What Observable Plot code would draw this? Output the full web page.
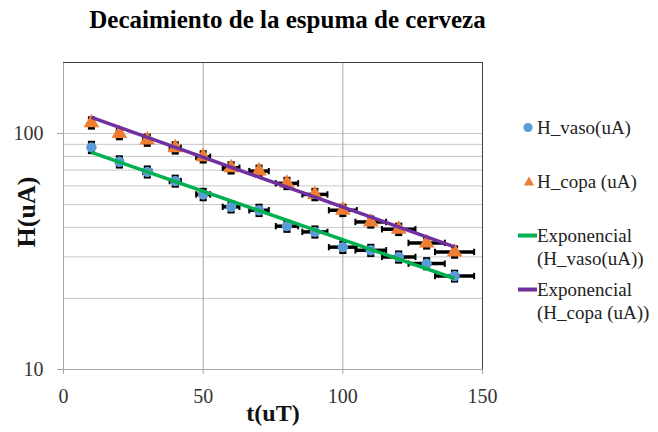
<!DOCTYPE html>
<html><head><meta charset="utf-8">
<script src="https://cdn.jsdelivr.net/npm/d3@7"></script>
<script src="https://cdn.jsdelivr.net/npm/@observablehq/plot@0.6"></script>
<style>
body{margin:0;background:#fff;}
#wrap{position:relative;width:658px;height:432px;overflow:hidden;font-family:"Liberation Serif","Times New Roman",serif;background:#fff;}
#title{position:absolute;left:0;top:0;width:575px;text-align:center;font-weight:bold;font-size:25px;line-height:40px;color:#000;}
#chart{position:absolute;left:0;top:40px;}
#ylab{position:absolute;left:27px;top:212px;width:0;height:0;}
#ylab span{position:absolute;left:0;top:0;transform:translate(-50%,-50%) rotate(-90deg);font-weight:bold;font-size:26px;line-height:30px;white-space:nowrap;color:#111;}
.item{position:absolute;left:517px;font-size:19px;line-height:23px;color:#222;}
.item svg{position:absolute;left:0;top:0;}
.item .txt{position:absolute;left:20px;top:0;white-space:nowrap;}
</style></head>
<body>
<div id="wrap">
  <div id="title"></div>
  <div id="chart"></div>
  <div id="ylab"><span></span></div>
</div>
<script>
// ---- data ----
const titleText = "Decaimiento de la espuma de cerveza";
const xLabel = "t(uT)";
const yLabel = "H(uA)";
const t = [10, 20, 30, 40, 50, 60, 70, 80, 90, 100, 110, 120, 130, 140];
const hVaso = [87.4, 75.9, 68.8, 62.9, 55.2, 48.9, 47.3, 40.5, 38.3, 33.0, 32.0, 30.0, 28.1, 24.9];
const hCopa = [111, 100, 93.8, 87, 79.7, 71.6, 69.3, 61.5, 55.2, 47.3, 42.2, 39.3, 34.4, 31.5];
const tErr = [0.5, 1, 1.5, 2, 2.5, 3, 3.5, 4, 4.5, 5, 5.5, 6, 6.5, 7];
const vasoErr = [4.4, 3.8, 3.4, 3.1, 2.8, 2.4, 2.4, 2.0, 1.9, 1.7, 1.6, 1.5, 1.4, 1.2];
const copaErr = [5.6, 5.0, 4.7, 4.4, 4.0, 3.6, 3.5, 3.1, 2.8, 2.4, 2.1, 2.0, 1.7, 1.6];
const fitT = [10, 140];
const fitVaso = [83.2, 24.3];
const fitCopa = [117, 33.1];
const xTicks = [0, 50, 100, 150];
const yTicks = [10, 100];
const yGrid = [20, 30, 40, 50, 60, 70, 80, 90, 100];
const seriesNames = ["H_vaso(uA)", "H_copa (uA)"];
const fitNames = [["Exponencial", "(H_vaso(uA))"], ["Exponencial", "(H_copa (uA))"]];
const colors = {vaso: "#5B9BD5", copa: "#ED7D31", fitVaso: "#00B050", fitCopa: "#7030A0"};

// ---- build tables ----
const rows = [];
t.forEach((tt, i) => {
  rows.push({s: "vaso", t: tt, H: hVaso[i], xe: tErr[i], ye: vasoErr[i]});
  rows.push({s: "copa", t: tt, H: hCopa[i], xe: tErr[i], ye: copaErr[i]});
});
const fits = [];
fitT.forEach((tt, i) => {
  fits.push({s: "fitVaso", t: tt, H: fitVaso[i]});
  fits.push({s: "fitCopa", t: tt, H: fitCopa[i]});
});
const vaso = rows.filter(d => d.s === "vaso");
const copa = rows.filter(d => d.s === "copa");

const vBar = {draw(ctx, size) { const h = Math.sqrt(size); ctx.moveTo(0, -h / 2); ctx.lineTo(0, h / 2); }};
const hBar = {draw(ctx, size) { const w = Math.sqrt(size); ctx.moveTo(-w / 2, 0); ctx.lineTo(w / 2, 0); }};

document.getElementById("title").textContent = titleText;
document.querySelector("#ylab span").textContent = yLabel;

const ff = "'Liberation Serif', 'Times New Roman', serif";
const chart = Plot.plot({
  width: 658, height: 392,
  marginLeft: 63, marginRight: 176, marginTop: 22, marginBottom: 63,
  style: {fontFamily: ff, fontSize: "20px", color: "#333", background: "transparent", overflow: "visible"},
  x: {domain: [0, 150]},
  y: {type: "log", domain: [10, 200]},
  marks: [
    Plot.gridY(yGrid, {stroke: "#c8c8c8", strokeOpacity: 1}),
    Plot.gridX([50, 100], {stroke: "#a6a6a6", strokeOpacity: 1}),
    Plot.ruleX([0], {stroke: "#a6a6a6"}),
    Plot.ruleY([10], {stroke: "#a6a6a6"}),
    Plot.ruleY([200], {stroke: "#404040"}),
    Plot.ruleX([150], {stroke: "#404040"}),
    Plot.axisY(yTicks, {tickSize: 6, tickPadding: 14, label: null, tickFormat: d => String(d), stroke: "#a6a6a6", fill: "#333", fontFamily: ff}),
    Plot.axisX(xTicks, {tickSize: 5, tickPadding: 14, label: null, tickFormat: d => String(d), stroke: "#a6a6a6", fill: "#333", fontFamily: ff}),
    Plot.text([xLabel], {frameAnchor: "bottom", dy: 51, fontWeight: "bold", fontSize: 24, fill: "#111", fontFamily: ff}),
    // error bars
    Plot.ruleY(rows, {y: "H", x1: d => d.t - d.xe, x2: d => d.t + d.xe, stroke: "black", strokeWidth: 3.5}),
    Plot.dot(rows, {x: d => d.t - d.xe, y: "H", symbol: vBar, r: 3.6, fill: "none", stroke: "black", strokeWidth: 2}),
    Plot.dot(rows, {x: d => d.t + d.xe, y: "H", symbol: vBar, r: 3.6, fill: "none", stroke: "black", strokeWidth: 2}),
    Plot.ruleX(rows, {x: "t", y1: d => d.H - d.ye, y2: d => d.H + d.ye, stroke: "black", strokeWidth: 1.5}),
    Plot.dot(rows, {x: "t", y: d => d.H - d.ye, symbol: hBar, r: 4, fill: "none", stroke: "black", strokeWidth: 3}),
    Plot.dot(rows, {x: "t", y: d => d.H + d.ye, symbol: hBar, r: 4, fill: "none", stroke: "black", strokeWidth: 3}),
    // markers
    Plot.dot(vaso, {x: "t", y: "H", symbol: "circle", r: 5.2, fill: colors.vaso, stroke: "none"}),
    Plot.dot(copa, {x: "t", y: "H", symbol: "triangle", r: 5.8, fill: colors.copa, stroke: "none"}),
    // exponential fits
    Plot.line(fits, {x: "t", y: "H", z: "s", stroke: d => colors[d.s], strokeWidth: 3.5, strokeLinecap: "butt"})
  ]
});
document.getElementById("chart").appendChild(chart);

// ---- legend (HTML) ----
const wrap = document.getElementById("wrap");
const legendItems = [
  {kind: "circle", color: colors.vaso, lines: [seriesNames[0]], cy: 127},
  {kind: "triangle", color: colors.copa, lines: [seriesNames[1]], cy: 181},
  {kind: "line", color: colors.fitVaso, lines: fitNames[0], cy: 235},
  {kind: "line", color: colors.fitCopa, lines: fitNames[1], cy: 289}
];
legendItems.forEach(it => {
  const div = document.createElement("div");
  div.className = "item";
  div.style.top = (it.cy - 11.5) + "px";
  let sym = "";
  if (it.kind === "circle") sym = `<circle cx="11" cy="11.5" r="4.6" fill="${it.color}"/>`;
  else if (it.kind === "triangle") sym = `<path d="M12,6.5 L17,15.5 L7,15.5 Z" fill="${it.color}"/>`;
  else sym = `<line x1="1" x2="20" y1="11.5" y2="11.5" stroke="${it.color}" stroke-width="4"/>`;
  div.innerHTML = `<svg width="21" height="23">${sym}</svg><div class="txt">${it.lines.join("<br>")}</div>`;
  wrap.appendChild(div);
});
</script>
</body></html>
